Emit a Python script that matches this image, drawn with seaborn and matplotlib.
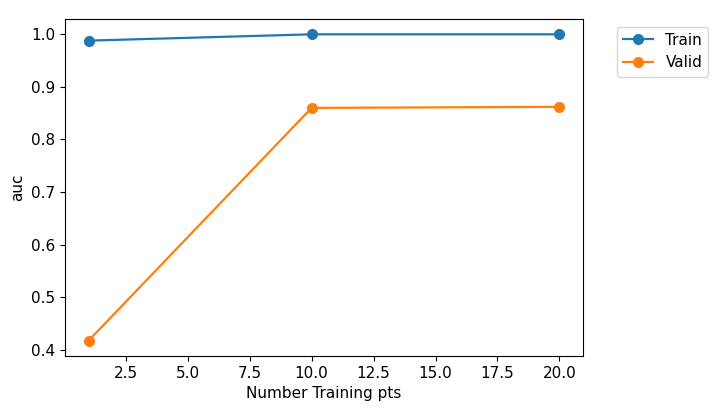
import matplotlib
matplotlib.use("Agg")
import matplotlib.pyplot as plt
import seaborn as sns
import pandas as pd

n_points = [1, 10, 20]
train_auc = [0.988, 1.0, 1.0]
valid_auc = [0.417, 0.860, 0.862]

df = pd.DataFrame({
    "Number Training pts": n_points * 2,
    "auc": train_auc + valid_auc,
    "set": ["Train"] * 3 + ["Valid"] * 3,
})

plt.rcParams["font.size"] = 11
fig = plt.figure(figsize=(7.16, 4.18), dpi=100)
ax = fig.add_axes([65 / 716, 1 - 356 / 418, 518 / 716, 337 / 418])
sns.lineplot(data=df, x="Number Training pts", y="auc", hue="set",
             palette=["#1f77b4", "#ff7f0e"], marker="o", markersize=8,
             markeredgewidth=0, linewidth=1.6, ax=ax)
ax.legend(title=None, bbox_to_anchor=(1.05, 1), loc="upper left", fontsize=11)
ax.set_xticks([2.5, 5.0, 7.5, 10.0, 12.5, 15.0, 17.5, 20.0])
fig.savefig("out.png", dpi=100)
